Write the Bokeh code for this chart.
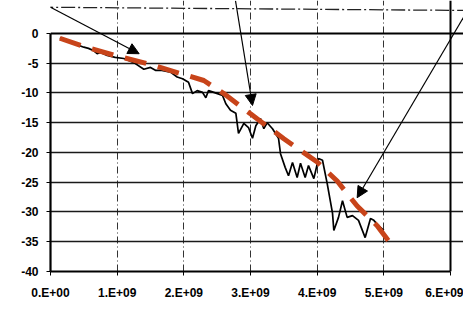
from bokeh.plotting import figure
from bokeh.models import Range1d, FixedTicker, Arrow, NormalHead, Grid
from bokeh.embed import file_html
from bokeh.resources import INLINE

# measured curve (x in units of 1e9)
meas_x = [0.14, 0.3, 0.5, 0.57, 0.65, 0.7, 0.75, 0.85, 0.97, 1.1, 1.25, 1.4, 1.5, 1.58, 1.67, 1.8,
          1.9, 1.98, 2.07, 2.13, 2.2, 2.28, 2.33, 2.37, 2.45, 2.58, 2.63, 2.7, 2.78, 2.82, 2.9,
          2.97, 3.03, 3.08, 3.15, 3.2, 3.25, 3.33, 3.42, 3.45, 3.52, 3.57, 3.63, 3.7, 3.75, 3.82,
          3.87, 3.95, 4.02, 4.08, 4.15, 4.23, 4.25, 4.32, 4.38, 4.45, 4.53, 4.62, 4.72, 4.8, 4.85,
          4.92, 5.0]
meas_y = [-0.7, -1.5, -2.3, -2.5, -2.9, -3.4, -3.2, -3.7, -4.0, -4.2, -4.9, -6.0, -5.7, -6.2, -6.2,
          -6.5, -7.3, -7.6, -8.2, -10.1, -9.6, -9.9, -10.8, -9.6, -9.9, -10.4, -11.8, -12.9, -13.4,
          -16.8, -15.1, -15.8, -17.6, -15.5, -14.3, -16.0, -15.0, -16.0, -17.6, -20.2, -22.5, -23.9,
          -21.7, -24.2, -21.8, -24.2, -22.2, -24.4, -21.0, -21.3, -25.2, -30.2, -33.1, -30.9, -28.1,
          -30.9, -30.6, -31.4, -34.3, -31.1, -31.4, -32.3, -33.1]

# fitted trend (red dashed)
fit_x = [0.14, 0.5, 1.0, 1.5, 2.0, 2.3, 2.6, 3.0, 3.5, 4.0, 4.3, 4.6, 4.9, 5.1]
fit_y = [-0.8, -2.2, -3.8, -5.2, -6.9, -7.9, -10.1, -13.5, -17.7, -21.6, -24.8, -29.0, -32.3, -35.3]

# pointer arrows: (x_start, y_start, x_end, y_end), x in units of 1e9
arrows = [(0.0, 4.4, 1.33, -3.4),
          (2.775, 5.5, 3.03, -12.1),
          (6.255, 3.87, 4.6, -27.6)]

x_ticks = [0, 1, 2, 3, 4, 5, 6]
x_labels = ["0.E+00", "1.E+09", "2.E+09", "3.E+09", "4.E+09", "5.E+09", "6.E+09"]
y_ticks = [0, -5, -10, -15, -20, -25, -30, -35, -40]
y_labels = ["0", "-5", "-10", "-15", "-20", "-25", "-30", "-35", "-40"]

E9 = 1e9

# frame spans the whole area above/right of the axes so the pointer arrows can leave the plot box
p = figure(width=463, height=318, output_backend="svg", toolbar_location=None,
           x_range=Range1d(0, 6.195 * E9), y_range=Range1d(-40, 5.546),
           min_border_left=50, min_border_right=0, min_border_top=0, min_border_bottom=47)
p.background_fill_color = "white"
p.border_fill_color = "white"
p.outline_line_color = None

# grids (limited to the plot box)
p.ygrid.ticker = FixedTicker(ticks=[-5, -10, -15, -20, -25, -30, -35])
p.ygrid.bounds = (0, 6 * E9)
p.ygrid.grid_line_color = "#1a1a1a"
p.ygrid.grid_line_width = 1.4
p.xgrid.ticker = FixedTicker(ticks=[t * E9 for t in [1, 2, 3, 4, 5]])
p.xgrid.bounds = (-40, 0)
p.xgrid.grid_line_color = "#333333"
p.xgrid.grid_line_width = 1
p.xgrid.grid_line_dash = "7 3 1 3"
# plot box: top and right edges
p.add_layout(Grid(dimension=1, ticker=FixedTicker(ticks=[0]), bounds=(0, 6 * E9),
                  grid_line_color="black", grid_line_width=2.2))
p.add_layout(Grid(dimension=0, ticker=FixedTicker(ticks=[6 * E9]), bounds=(-40, 0),
                  grid_line_color="black", grid_line_width=2))

# axes
p.xaxis.ticker = FixedTicker(ticks=[t * E9 for t in x_ticks])
p.xaxis.major_label_overrides = {t * E9: l for t, l in zip(x_ticks, x_labels)}
p.xaxis.bounds = (0, 6 * E9)
p.yaxis.ticker = FixedTicker(ticks=y_ticks)
p.yaxis.major_label_overrides = {t: l for t, l in zip(y_ticks, y_labels)}
p.yaxis.bounds = (-40, 0)
for ax in (p.xaxis[0], p.yaxis[0]):
    ax.axis_line_color = "black"
    ax.axis_line_width = 2.2
    ax.major_tick_line_color = "black"
    ax.major_tick_in = 0
    ax.major_tick_out = 4
    ax.minor_tick_line_color = None
    ax.major_label_text_font = "Liberation Sans"
    ax.major_label_text_font_style = "bold"
    ax.major_label_text_color = "black"
p.xaxis.major_label_text_font_size = "12px"
p.yaxis.major_label_text_font_size = "12px"
p.xaxis.major_label_standoff = 10
p.yaxis.major_label_standoff = 8

# data
p.line([x * E9 for x in meas_x], meas_y, line_color="black", line_width=1.7)
p.line([x * E9 for x in fit_x], fit_y, line_color="#C8441A", line_width=5,
       line_dash="22 12", line_cap="butt")

# outer frame of the scanned figure (top edge)
p.add_layout(Arrow(end=None, x_start=-0.5 * E9, y_start=4.45, x_end=6.255 * E9, y_end=3.87,
                   line_color="#222222", line_width=1.3, line_dash="14 3 2 3"))

for xs, ys, xe, ye in arrows:
    p.add_layout(Arrow(end=NormalHead(size=11, fill_color="black", line_color="black"),
                       x_start=xs * E9, y_start=ys, x_end=xe * E9, y_end=ye,
                       line_color="black", line_width=1.2))

open("out.html", "w").write(file_html(p, INLINE))
